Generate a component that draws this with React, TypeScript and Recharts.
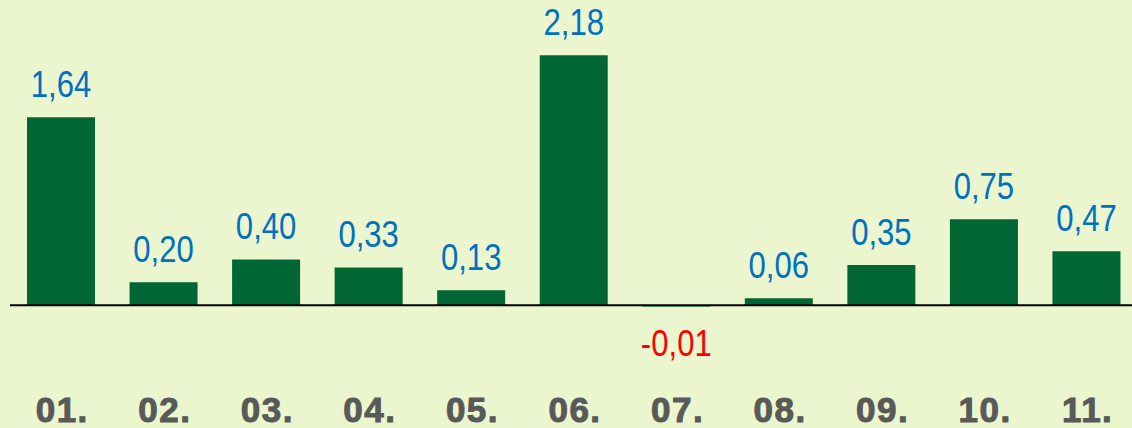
import React from 'react';
import { BarChart, Bar, XAxis, YAxis, ReferenceLine, LabelList } from 'recharts';

const categories = ['01.', '02.', '03.', '04.', '05.', '06.', '07.', '08.', '09.', '10.', '11.'];
const values = [1.64, 0.2, 0.4, 0.33, 0.13, 2.18, -0.01, 0.06, 0.35, 0.75, 0.47];

const data = categories.map((c, i) => ({ name: c, value: values[i] }));

const BG = '#EBF6CE';
const BAR = '#006633';
const BLUE = '#0070C0';
const RED = '#FF0000';

const fmt = (v: number) => v.toFixed(2).replace('.', ',');

const ValueLabel = (props: any) => {
  const { x, y, width, height, value } = props;
  const top = Math.min(y, y + height);
  const bottom = Math.max(y, y + height);
  const neg = value < 0;
  const cx = x + width / 2;
  const by = neg ? bottom + 50 : top - 20;
  return (
    <text
      x={0}
      y={0}
      transform={`translate(${cx},${by}) scale(0.84,1)`}
      textAnchor="middle"
      fill={neg ? RED : BLUE}
      fontSize={37}
      fontFamily="'Liberation Sans', Arial, sans-serif"
    >
      {fmt(value)}
    </text>
  );
};

const Tick = (props: any) => {
  const { x, y, payload } = props;
  return (
    <text
      x={x + 1}
      y={y + 25}
      textAnchor="middle"
      fill="#595959"
      stroke="#595959"
      strokeWidth={1}
      fontSize={35}
      fontWeight="bold"
      letterSpacing={1.5}
      fontFamily="'Liberation Sans', Arial, sans-serif"
    >
      {payload.value}
    </text>
  );
};

export default function App() {
  return (
    <div style={{ position: 'fixed', left: 0, top: 0, width: 1132, height: 428, background: BG, overflow: 'hidden' }}>
      <BarChart
        width={1138}
        height={428}
        data={data}
        margin={{ top: 30, right: 0, bottom: 0, left: 10 }}
      >
        <YAxis hide domain={[-0.8, 2.4]} />
        <XAxis
          dataKey="name"
          axisLine={false}
          tickLine={false}
          tickSize={0}
          tickMargin={0}
          height={31}
          tick={<Tick />}
          interval={0}
        />
        <Bar dataKey="value" fill={BAR} barSize={68} isAnimationActive={false}>
          <LabelList dataKey="value" content={<ValueLabel />} />
        </Bar>
        <ReferenceLine y={0} stroke="#000000" strokeWidth={2} />
      </BarChart>
    </div>
  );
}
